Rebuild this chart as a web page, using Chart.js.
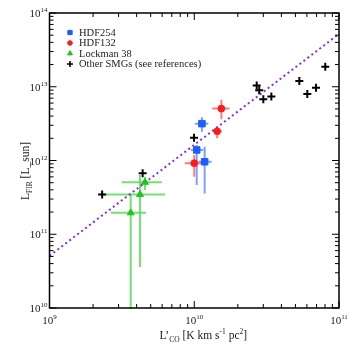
<!DOCTYPE html>
<html>
<head>
<meta charset="utf-8">
<script src="https://cdn.jsdelivr.net/npm/chart.js@4.4.0/dist/chart.umd.min.js"></script>
<style>
  html, body { margin: 0; padding: 0; background: #fff; }
  #wrap { width: 357px; height: 348px; }
</style>
</head>
<body>
<div id="wrap"><canvas id="chart" width="357" height="348"></canvas></div>
<script>
// HDF254
const hdf254X = [1.13e10, 1.04e10, 1.18e10];
const hdf254Y = [3.16e12, 1.39e12, 9.6e11];
const hdf254XLo = [1.01e10, 9.5e9, 1.07e10];
const hdf254XHi = [1.25e10, 1.155e10, 1.32e10];
const hdf254YLo = [2.46e12, 4.65e11, 3.58e11];
const hdf254YHi = [3.86e12, 1.62e12, 1.54e12];

// HDF132
const hdf132X = [1.54e10, 1.44e10, 1.0e10];
const hdf132Y = [5.06e12, 2.49e12, 9.2e11];
const hdf132XLo = [1.33e10, 1.35e10, 8.6e9];
const hdf132XHi = [1.75e10, 1.55e10, 1.19e10];
const hdf132YLo = [3.63e12, 2.0e12, 6.0e11];
const hdf132YHi = [6.64e12, 2.88e12, 1.19e12];

// Lockman 38
const lockX = [3.64e9, 4.22e9, 4.57e9];
const lockY = [1.95e11, 3.47e11, 5.06e11];
const lockXLo = [2.65e9, 2.29e9, 3.15e9];
const lockXHi = [4.64e9, 6.28e9, 5.96e9];
const lockYLo = [5e9, 3.6e10, 3.97e11];
const lockYHi = [3.4e11, 6.35e11, 6.0e11];

// autres SMGs
const smgX = [2.31e9, 4.4e9, 9.96e9, 2.70e10, 2.81e10, 3.0e10, 3.41e10, 5.32e10, 6.04e10, 6.94e10, 8.04e10];
const smgY = [3.47e11, 6.7e11, 2.04e12, 1.04e13, 8.99e12, 6.79e12, 7.36e12, 1.2e13, 8.0e12, 9.66e12, 1.86e13];

// relation (pointillés)
const fitX = [1e9, 1e11];
const fitY = [5.1e10, 5.2e13];

const xDecades = [9, 10, 11];
const yDecades = [10, 11, 12, 13, 14];

const legendLabels = ['HDF254', 'HDF132', 'Lockman 38', 'Other SMGs (see references)'];

const FONT = '"Liberation Serif", "Times New Roman", serif';

function pts(xs, ys) {
    return xs.map((x, i) => ({ x: x, y: ys[i] }));
}

const errSets = [
    { x: lockX, y: lockY, xlo: lockXLo, xhi: lockXHi, ylo: lockYLo, yhi: lockYHi, color: 'rgba(90,220,90,0.85)' },
    { x: hdf254X, y: hdf254Y, xlo: hdf254XLo, xhi: hdf254XHi, ylo: hdf254YLo, yhi: hdf254YHi, color: 'rgba(100,145,255,0.85)' },
    { x: hdf132X, y: hdf132Y, xlo: hdf132XLo, xhi: hdf132XHi, ylo: hdf132YLo, yhi: hdf132YHi, color: 'rgba(255,100,100,0.85)' }
];

// texte avec exposants / indices
function richText(ctx, parts, x, y, align) {
    let total = 0;
    parts.forEach(p => {
        ctx.font = p.size + 'px ' + FONT;
        total += ctx.measureText(p.t).width;
    });
    let cx = x;
    if (align === 'center') cx = x - total / 2;
    else if (align === 'right') cx = x - total;
    ctx.textAlign = 'left';
    ctx.textBaseline = 'alphabetic';
    parts.forEach(p => {
        ctx.font = p.size + 'px ' + FONT;
        ctx.fillText(p.t, cx, y + (p.dy || 0));
        cx += ctx.measureText(p.t).width;
    });
}

const errorBars = {
    id: 'errorBars',
    beforeDatasetsDraw(chart) {
        const ctx = chart.ctx;
        const xs = chart.scales.x, ys = chart.scales.y;
        const a = chart.chartArea;
        ctx.save();
        ctx.beginPath();
        ctx.rect(a.left, a.top, a.right - a.left, a.bottom - a.top + 1);
        ctx.clip();
        ctx.lineWidth = 2;
        errSets.forEach(s => {
            ctx.strokeStyle = s.color;
            s.x.forEach((xv, i) => {
                const px = xs.getPixelForValue(xv);
                const py = ys.getPixelForValue(s.y[i]);
                ctx.beginPath();
                ctx.moveTo(xs.getPixelForValue(s.xlo[i]), py);
                ctx.lineTo(xs.getPixelForValue(s.xhi[i]), py);
                ctx.moveTo(px, ys.getPixelForValue(s.ylo[i]));
                ctx.lineTo(px, ys.getPixelForValue(s.yhi[i]));
                ctx.stroke();
            });
        });
        ctx.restore();
    }
};

const frameAxes = {
    id: 'frameAxes',
    afterDraw(chart) {
        const ctx = chart.ctx;
        const xs = chart.scales.x, ys = chart.scales.y;
        const a = chart.chartArea;
        ctx.save();
        ctx.strokeStyle = '#000';
        ctx.fillStyle = '#000';
        ctx.lineWidth = 1.5;
        ctx.strokeRect(a.left, a.top, a.right - a.left, a.bottom - a.top);

        ctx.lineWidth = 1;
        // graduations x
        for (let d = xDecades[0]; d <= xDecades[xDecades.length - 1]; d++) {
            for (let m = 1; m <= 9; m++) {
                const v = m * Math.pow(10, d);
                if (v > Math.pow(10, xDecades[xDecades.length - 1])) break;
                const px = xs.getPixelForValue(v);
                const len = m === 1 ? 7 : 4;
                ctx.beginPath();
                ctx.moveTo(px, a.bottom); ctx.lineTo(px, a.bottom - len);
                ctx.moveTo(px, a.top); ctx.lineTo(px, a.top + len);
                ctx.stroke();
            }
        }
        // graduations y
        for (let d = yDecades[0]; d <= yDecades[yDecades.length - 1]; d++) {
            for (let m = 1; m <= 9; m++) {
                const v = m * Math.pow(10, d);
                if (v > Math.pow(10, yDecades[yDecades.length - 1])) break;
                const py = ys.getPixelForValue(v);
                const len = m === 1 ? 7 : 4;
                ctx.beginPath();
                ctx.moveTo(a.left, py); ctx.lineTo(a.left + len, py);
                ctx.moveTo(a.right, py); ctx.lineTo(a.right - len, py);
                ctx.stroke();
            }
        }

        ctx.fillStyle = '#222';
        xDecades.forEach(d => {
            const px = xs.getPixelForValue(Math.pow(10, d));
            richText(ctx, [{ t: '10', size: 11 }, { t: String(d), size: 7, dy: -5 }], px, a.bottom + 16, 'center');
        });
        yDecades.forEach(d => {
            const py = ys.getPixelForValue(Math.pow(10, d));
            richText(ctx, [{ t: '10', size: 11 }, { t: String(d), size: 7, dy: -5 }], a.left - 2, py + 4, 'right');
        });

        // titres des axes
        richText(ctx, [
            { t: 'L\u2019', size: 11.5 }, { t: 'CO', size: 7.5, dy: 3 },
            { t: ' [K km s', size: 11.5 }, { t: '-1', size: 7.5, dy: -5 },
            { t: ' pc', size: 11.5 }, { t: '2', size: 7.5, dy: -5 }, { t: ']', size: 11.5 }
        ], (a.left + a.right) / 2 + 9, a.bottom + 31, 'center');

        ctx.save();
        ctx.translate(29, 171);
        ctx.rotate(-Math.PI / 2);
        richText(ctx, [
            { t: 'L', size: 11.5 }, { t: 'FIR', size: 7.5, dy: 3 }, { t: ' [L_sun]', size: 11.5 }
        ], 0, 0, 'center');
        ctx.restore();

        // légende
        const lx = 70, rows = [32.5, 43, 53.5, 64];
        const marks = [
            { style: 'rect', color: '#1f5cff', r: 3 },
            { style: 'circle', color: '#ff1a1a', r: 2.3 },
            { style: 'triangle', color: '#19c819', r: 2.8 },
            { style: 'cross', color: '#000', r: 3 }
        ];
        marks.forEach((mk, i) => {
            ctx.fillStyle = mk.color;
            ctx.strokeStyle = mk.color;
            ctx.lineWidth = mk.style === 'cross' ? 1.6 : 1;
            Chart.helpers.drawPoint(ctx, { pointStyle: mk.style, radius: mk.r, borderWidth: ctx.lineWidth, rotation: 0 }, lx, rows[i]);
            if (mk.style !== 'cross') ctx.fill();
            ctx.fillStyle = '#222';
            ctx.font = '10.5px ' + FONT;
            ctx.textAlign = 'left';
            ctx.textBaseline = 'middle';
            ctx.fillText(legendLabels[i], 79, rows[i] + 0.5);
        });
        ctx.restore();
    }
};

new Chart(document.getElementById('chart'), {
    type: 'scatter',
    data: {
        datasets: [
            {
                label: 'fit', type: 'line', data: pts(fitX, fitY),
                borderColor: '#8a2be2', borderWidth: 2, borderDash: [2, 3],
                pointRadius: 0, fill: false, order: 5
            },
            {
                label: legendLabels[3], data: pts(smgX, smgY), pointStyle: 'cross',
                pointRadius: 4, borderColor: '#000', borderWidth: 2, order: 4
            },
            {
                label: legendLabels[2], data: pts(lockX, lockY), pointStyle: 'triangle',
                pointRadius: 4, backgroundColor: '#19c819', borderColor: '#19c819', borderWidth: 1, order: 3
            },
            {
                label: legendLabels[0], data: pts(hdf254X, hdf254Y), pointStyle: 'rect',
                pointRadius: 4.6, backgroundColor: '#1f5cff', borderColor: '#1f5cff', borderWidth: 1, order: 2
            },
            {
                label: legendLabels[1], data: pts(hdf132X, hdf132Y), pointStyle: 'circle',
                pointRadius: 3.4, backgroundColor: '#ff1a1a', borderColor: '#ff1a1a', borderWidth: 1, order: 1
            }
        ]
    },
    options: {
        responsive: false,
        animation: false,
        layout: { padding: { left: 49.5, right: 18, top: 13, bottom: 40 } },
        plugins: { legend: { display: false }, tooltip: { enabled: false } },
        scales: {
            x: { type: 'logarithmic', min: 1e9, max: 1e11, display: false },
            y: { type: 'logarithmic', min: 1e10, max: 1e14, display: false }
        }
    },
    plugins: [errorBars, frameAxes]
});
</script>
</body>
</html>
